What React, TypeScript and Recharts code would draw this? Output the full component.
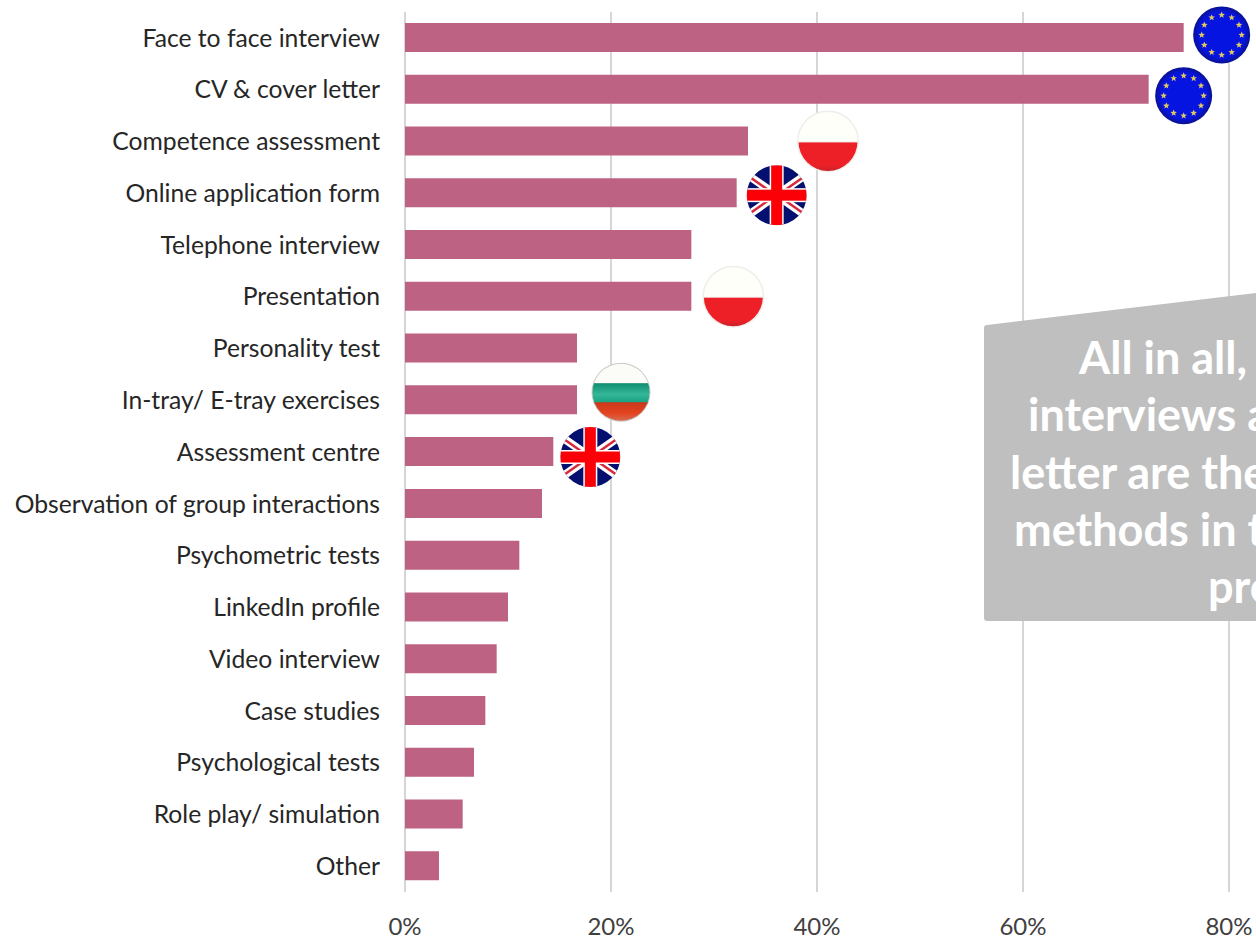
import { BarChart, Bar, XAxis, YAxis, CartesianGrid, ReferenceDot } from "recharts";

const methods = [
  "Face to face interview",
  "CV & cover letter",
  "Competence assessment",
  "Online application form",
  "Telephone interview",
  "Presentation",
  "Personality test",
  "In-tray/ E-tray exercises",
  "Assessment centre",
  "Observation of group interactions",
  "Psychometric tests",
  "LinkedIn profile",
  "Video interview",
  "Case studies",
  "Psychological tests",
  "Role play/ simulation",
  "Other",
];
const shares = [75.6, 72.2, 33.3, 32.2, 27.8, 27.8, 16.7, 16.7, 14.4, 13.3, 11.1, 10, 8.9, 7.8, 6.7, 5.6, 3.3];
const axisTicks = [0, 20, 40, 60, 80];

const flaggedMethods = [
  "Face to face interview",
  "CV & cover letter",
  "Competence assessment",
  "Online application form",
  "Presentation",
  "In-tray/ E-tray exercises",
  "Assessment centre",
];
const flagCountries = ["eu", "eu", "pl", "uk", "pl", "bg", "uk"];

const calloutLines = ["All in all,", "interviews a", "letter are the", "methods in t", "pro"];

const chartData = methods.map((method, i) => ({ method, share: shares[i] }));

// flag centre relative to the end of its bar
const flagNudges = [
  [38, -3],
  [35, 6],
  [80, 0],
  [40, 2],
  [42, 0],
  [44, -8],
  [37, 5],
];
const calloutStarts = [1079, 1028, 1010, 1014, 1208];

const FONT = "Lato, sans-serif";

function EuFlag({ id }: { id: string }) {
  const stars = Array.from({ length: 12 }, (_, i) => (i * Math.PI) / 6);
  return (
    <g>
      <defs>
        <radialGradient id={id}>
          <stop offset="80%" stopColor="#0614e2" />
          <stop offset="100%" stopColor="#0a1190" />
        </radialGradient>
      </defs>
      <circle r={28.5} fill={`url(#${id})`} />
      {stars.map((a, i) => (
        <polygon
          key={i}
          transform={`translate(${20 * Math.cos(a)} ${20 * Math.sin(a)})`}
          fill="#e2c95c"
          points="0,-3.4 0.9,-1.1 3.3,-1 1.4,0.5 2,2.8 0,1.5 -2,2.8 -1.4,0.5 -3.3,-1 -0.9,-1.1"
        />
      ))}
    </g>
  );
}

function UkFlag({ id }: { id: string }) {
  return (
    <g clipPath={`url(#${id})`}>
      <defs>
        <clipPath id={id}>
          <circle r={30} />
        </clipPath>
      </defs>
      <rect x={-30} y={-30} width={60} height={60} fill="#04106f" />
      <path d="M-30,-21 L30,21 M-30,21 L30,-21" stroke="#fff" strokeWidth={8} />
      <path d="M-28,-19 L-8,-5 M8,5 L28,19 M-28,19 L-8,5 M8,-5 L28,-19" stroke="#d8283c" strokeWidth={2.5} />
      <rect x={-30} y={-7} width={60} height={14} fill="#fff" />
      <rect x={-7} y={-30} width={14} height={60} fill="#fff" />
      <rect x={-30} y={-5.5} width={60} height={11} fill="#fb0007" />
      <rect x={-5.5} y={-30} width={11} height={60} fill="#fb0007" />
    </g>
  );
}

function PlFlag({ id }: { id: string }) {
  return (
    <g>
      <defs>
        <clipPath id={id}>
          <circle r={29.5} />
        </clipPath>
        <linearGradient id={`${id}-red`} x1="0" y1="0" x2="0" y2="1">
          <stop offset="75%" stopColor="#ee2027" />
          <stop offset="100%" stopColor="#c4212a" />
        </linearGradient>
      </defs>
      <circle r={31} fill="#efeeea" />
      <g clipPath={`url(#${id})`}>
        <rect x={-30} y={-30} width={60} height={30} fill="#fffffa" />
        <rect x={-30} y={1} width={60} height={30} fill={`url(#${id}-red)`} />
      </g>
    </g>
  );
}

function BgFlag({ id }: { id: string }) {
  return (
    <g>
      <defs>
        <clipPath id={id}>
          <circle r={28.5} />
        </clipPath>
        <linearGradient id={`${id}-green`} x1="0" y1="0" x2="0" y2="1">
          <stop offset="0%" stopColor="#0e8f72" />
          <stop offset="55%" stopColor="#35b698" />
          <stop offset="100%" stopColor="#15a282" />
        </linearGradient>
        <linearGradient id={`${id}-red`} x1="0" y1="0" x2="0" y2="1">
          <stop offset="0%" stopColor="#c9381c" />
          <stop offset="55%" stopColor="#e4441f" />
          <stop offset="100%" stopColor="#d4725c" />
        </linearGradient>
      </defs>
      <circle r={29.5} fill="#c9c9c4" />
      <g clipPath={`url(#${id})`}>
        <rect x={-30} y={-30} width={60} height={21} fill="#fbfbf8" />
        <rect x={-30} y={-9} width={60} height={20} fill={`url(#${id}-green)`} />
        <rect x={-30} y={10} width={60} height={20} fill={`url(#${id}-red)`} />
      </g>
    </g>
  );
}

const flagComponents: Record<string, (p: { id: string }) => React.ReactElement> = {
  eu: EuFlag,
  uk: UkFlag,
  pl: PlFlag,
  bg: BgFlag,
};

export default function App() {
  return (
    <div style={{ position: "absolute", left: 0, top: 0, width: 1256, height: 940, overflow: "hidden", background: "#fff" }}>
      <BarChart
        width={1445}
        height={940}
        layout="vertical"
        data={chartData}
        margin={{ top: 12, right: 10, bottom: 0, left: 0 }}
        barSize={29}
      >
        <CartesianGrid horizontal={false} stroke="#d6d6d6" strokeWidth={2} />
        <XAxis
          type="number"
          domain={[0, 100]}
          ticks={axisTicks}
          height={48}
          axisLine={false}
          tickLine={false}
          tickSize={0}
          tickMargin={26}
          tickFormatter={(v) => `${v}%`}
          tick={{ fontFamily: FONT, fontSize: 24, fill: "#404040" }}
        />
        <YAxis
          type="category"
          dataKey="method"
          width={405}
          interval={0}
          axisLine={false}
          tickLine={false}
          tickSize={0}
          tickMargin={25}
          tick={{ fontFamily: FONT, fontSize: 24.7, fill: "#262626" }}
        />
        <Bar dataKey="share" fill="#bd6282" isAnimationActive={false} />
        {flaggedMethods.map((method, i) => {
          const Flag = flagComponents[flagCountries[i]];
          const [dx, dy] = flagNudges[i];
          return (
            <ReferenceDot
              key={method}
              x={shares[methods.indexOf(method)]}
              y={method}
              ifOverflow="visible"
              shape={(p: any) => (
                <g transform={`translate(${p.cx + dx} ${p.cy + dy})`}>
                  <Flag id={`flag-${i}`} />
                </g>
              )}
            />
          );
        })}
      </BarChart>

      {/* grey callout, runs off the right edge */}
      <svg width={1256} height={940} style={{ position: "absolute", left: 0, top: 0 }}>
        <path
          d="M987,325 L1256,293 L1256,621 L987,621 Q984,621 984,618 L984,328 Q984,325 987,325 Z"
          fill="#bfbfbf"
        />
        {calloutLines.map((line, i) => (
          <text
            key={line}
            x={calloutStarts[i]}
            y={374 + i * 57.25}
            fontFamily={FONT}
            fontWeight={700}
            fontSize={45}
            fill="#fff"
          >
            {line}
          </text>
        ))}
      </svg>
    </div>
  );
}
